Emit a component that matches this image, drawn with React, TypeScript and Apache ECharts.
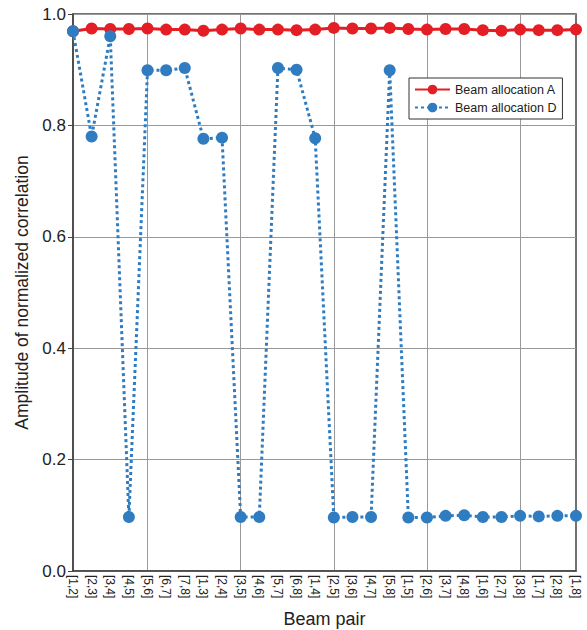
import React, { useEffect, useRef } from "react";
import * as echarts from "echarts";

const categories = [
  "[1,2]", "[2,3]", "[3,4]", "[4,5]", "[5,6]", "[6,7]", "[7,8]",
  "[1,3]", "[2,4]", "[3,5]", "[4,6]", "[5,7]", "[6,8]",
  "[1,4]", "[2,5]", "[3,6]", "[4,7]", "[5,8]",
  "[1,5]", "[2,6]", "[3,7]", "[4,8]",
  "[1,6]", "[2,7]", "[3,8]",
  "[1,7]", "[2,8]",
  "[1,8]",
];

const allocationA = [
  0.969, 0.974, 0.973, 0.973, 0.974, 0.972, 0.972,
  0.970, 0.972, 0.974, 0.972, 0.972, 0.971,
  0.972, 0.975, 0.974, 0.974, 0.975,
  0.973, 0.972, 0.973, 0.973, 0.971, 0.970, 0.972,
  0.971, 0.971, 0.972,
];

const allocationD = [
  0.969, 0.780, 0.960, 0.097, 0.899, 0.899, 0.903,
  0.776, 0.778, 0.097, 0.097, 0.903, 0.900,
  0.777, 0.096, 0.097, 0.097, 0.899,
  0.096, 0.096, 0.099, 0.100, 0.097, 0.097, 0.099,
  0.098, 0.099, 0.099,
];

const yTicks = [0, 0.2, 0.4, 0.6, 0.8, 1.0];

const FONT = "'Liberation Sans', Arial, Helvetica, sans-serif";

export default function App() {
  const ref = useRef<HTMLDivElement>(null);
  useEffect(() => {
    if (!ref.current) return;
    document.body.style.margin = "0";
    const chart = echarts.init(ref.current, undefined, { renderer: "svg" });
    chart.setOption({
      animation: false,
      backgroundColor: "#ffffff",
      textStyle: { fontFamily: FONT },
      grid: {
        left: 73,
        right: 11,
        top: 14,
        bottom: 59,
        show: true,
        borderColor: "#444",
        borderWidth: 1.5,
        containLabel: false,
        outerBoundsMode: "none",
      },
      legend: {
        orient: "vertical",
        left: 409,
        top: 78,
        data: ["Beam allocation A", "Beam allocation D"],
        borderColor: "#333",
        borderWidth: 1,
        padding: [5, 6, 5, 5],
        itemGap: 5,
        itemWidth: 35,
        itemHeight: 12,
        textStyle: { fontFamily: FONT, fontSize: 12.5, color: "#222" },
        backgroundColor: "#fff",
      },
      xAxis: {
        type: "category",
        data: categories,
        boundaryGap: false,
        name: "Beam pair",
        nameLocation: "middle",
        nameGap: 39,
        nameTextStyle: { fontFamily: FONT, fontSize: 18, color: "#222" },
        axisLine: { lineStyle: { color: "#444", width: 1.5 } },
        axisTick: { show: false },
        axisLabel: {
          interval: 0,
          rotate: -90,
          fontSize: 12,
          margin: 4,
          color: "#222",
          fontFamily: FONT,
        },
        splitLine: {
          show: true,
          interval: (index: number) => index % 5 === 4,
          lineStyle: { color: "#999", width: 1 },
        },
      },
      yAxis: {
        type: "value",
        min: yTicks[0],
        max: yTicks[yTicks.length - 1],
        interval: 0.2,
        name: "Amplitude of normalized correlation",
        nameLocation: "middle",
        nameGap: 36,
        nameTextStyle: { fontFamily: FONT, fontSize: 17.5, color: "#222" },
        axisLine: { show: true, lineStyle: { color: "#444", width: 1.5 } },
        axisTick: { show: true, length: 5, lineStyle: { color: "#444" } },
        axisLabel: {
          fontSize: 17,
          color: "#222",
          margin: 7,
          fontFamily: FONT,
          formatter: (v: number) => v.toFixed(1),
        },
        splitLine: { show: true, lineStyle: { color: "#999", width: 1 } },
      },
      series: [
        {
          name: "Beam allocation A",
          type: "line",
          data: allocationA,
          symbol: "circle",
          symbolSize: 12,
          z: 3,
          itemStyle: { color: "#e31e24" },
          lineStyle: { color: "#e31e24", width: 3 },
        },
        {
          name: "Beam allocation D",
          type: "line",
          data: allocationD,
          symbol: "circle",
          symbolSize: 12,
          z: 4,
          itemStyle: { color: "#2f7dc0" },
          lineStyle: { color: "#2f7dc0", width: 3, type: [3, 3] },
        },
      ],
    });
    return () => chart.dispose();
  }, []);
  return (
    <div
      ref={ref}
      style={{ position: "absolute", left: 0, top: 0, width: 587, height: 630 }}
    />
  );
}
